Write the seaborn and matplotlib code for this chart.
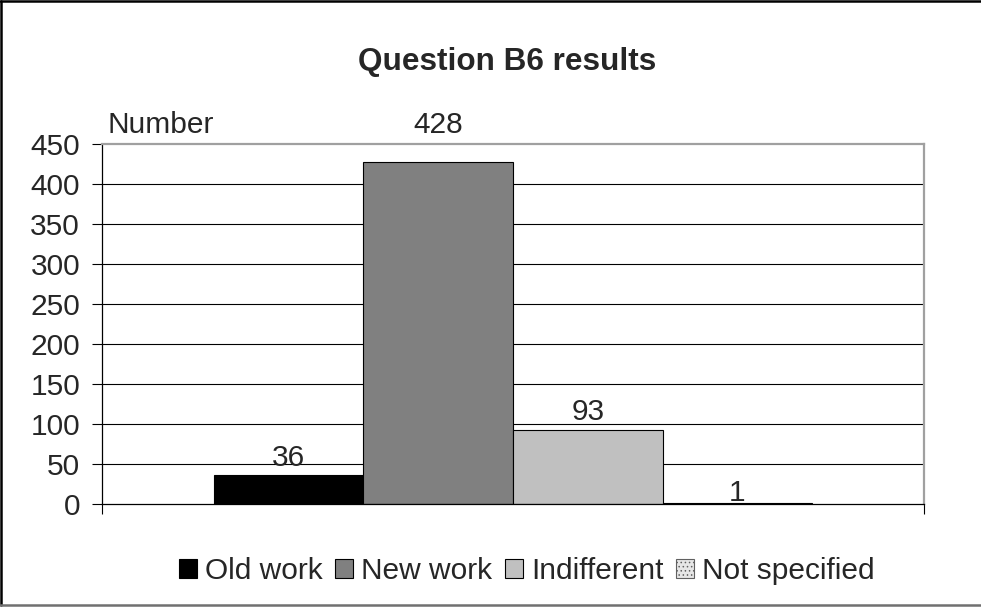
import matplotlib
matplotlib.use("Agg")
import matplotlib.pyplot as plt
from matplotlib.lines import Line2D
from matplotlib.patches import Patch
import seaborn as sns
import pandas as pd

# Survey answers for question B6
categories = ["Old work", "New work", "Indifferent", "Not specified"]
counts = [36, 428, 93, 1]
y_ticks = [0, 50, 100, 150, 200, 250, 300, 350, 400, 450]

colors = ["#000000", "#808080", "#C0C0C0", "#E6E6E6"]
label_pads = [2.5, 16, 2.5, -3.0]

FS = 21.5

sns.set_theme(style="white")
plt.rcParams["font.family"] = ["Liberation Sans", "DejaVu Sans"]
plt.rcParams["hatch.color"] = "#A0A0A0"
plt.rcParams["hatch.linewidth"] = 0.6

df = pd.DataFrame({"group": ["B6"] * len(categories),
                   "answer": categories,
                   "count": counts})

fig = plt.figure(figsize=(9.81, 6.07), dpi=100)
ax = fig.add_axes([102 / 981, 1 - 504 / 607, (924 - 102) / 981, (504 - 144) / 607])

sns.barplot(data=df, x="group", y="count", hue="answer", hue_order=categories,
            palette=colors, width=0.7275, dodge=True, ax=ax, legend=False,
            edgecolor="black", linewidth=0.8, saturation=1)

# dotted fill for the unspecified answers
ax.patches[3].set_hatch("....")

for cont, pad in zip(ax.containers, label_pads):
    ax.bar_label(cont, fmt="%d", padding=pad, fontsize=FS)

ax.set_xlim(-0.5, 0.5)
ax.set_ylim(0, 450)
ax.set_yticks(y_ticks)
ax.set_yticklabels([str(v) for v in y_ticks], fontsize=FS)
ax.set_xticks([-0.5, 0.5])
ax.set_xticklabels(["", ""])
ax.set_xlabel("")
ax.set_ylabel("")

ax.tick_params(axis="y", direction="out", length=7.2, width=0.8, color="black",
               pad=8.6, left=True)
ax.tick_params(axis="x", direction="out", length=7.2, width=0.8, color="black",
               bottom=True)

for y in y_ticks[1:-1]:
    ax.axhline(y, color="black", linewidth=0.8, zorder=0)

for side in ["left", "bottom"]:
    ax.spines[side].set_color("black")
    ax.spines[side].set_linewidth(0.9)
for side in ["top", "right"]:
    ax.spines[side].set_visible(True)
    ax.spines[side].set_color("#A0A0A0")
    ax.spines[side].set_linewidth(1.6)

fig.text(107 / 981, 1 - 133 / 607, "Number", fontsize=FS,
         ha="left", va="baseline")

fig.text(507 / 981, 1 - 70 / 607, "Question B6 results", fontsize=22.7,
         fontweight="bold", ha="center", va="baseline")

handles = [Patch(facecolor=c, edgecolor="black", linewidth=0.8) for c in colors]
handles[3].set_hatch("....")
handles[3].set_edgecolor("#606060")
fig.legend(handles, categories, loc="center", ncol=4,
           bbox_to_anchor=(527 / 981, 1 - 571 / 607), frameon=False,
           fontsize=FS, handlelength=0.6, handleheight=0.6,
           handletextpad=0.27, columnspacing=0.43, borderaxespad=0,
           borderpad=0)

# outer chart frame
fig.add_artist(Line2D([0.001, 0.001], [0.0035, 0.999], color="black", linewidth=1.8,
                      transform=fig.transFigure))
fig.add_artist(Line2D([0.0, 1.0], [0.999, 0.999], color="black", linewidth=1.8,
                      transform=fig.transFigure))
fig.add_artist(Line2D([0.0, 1.0], [0.0035, 0.0035], color="#707070", linewidth=1.8,
                      transform=fig.transFigure))

fig.savefig("out.png", dpi=100)
